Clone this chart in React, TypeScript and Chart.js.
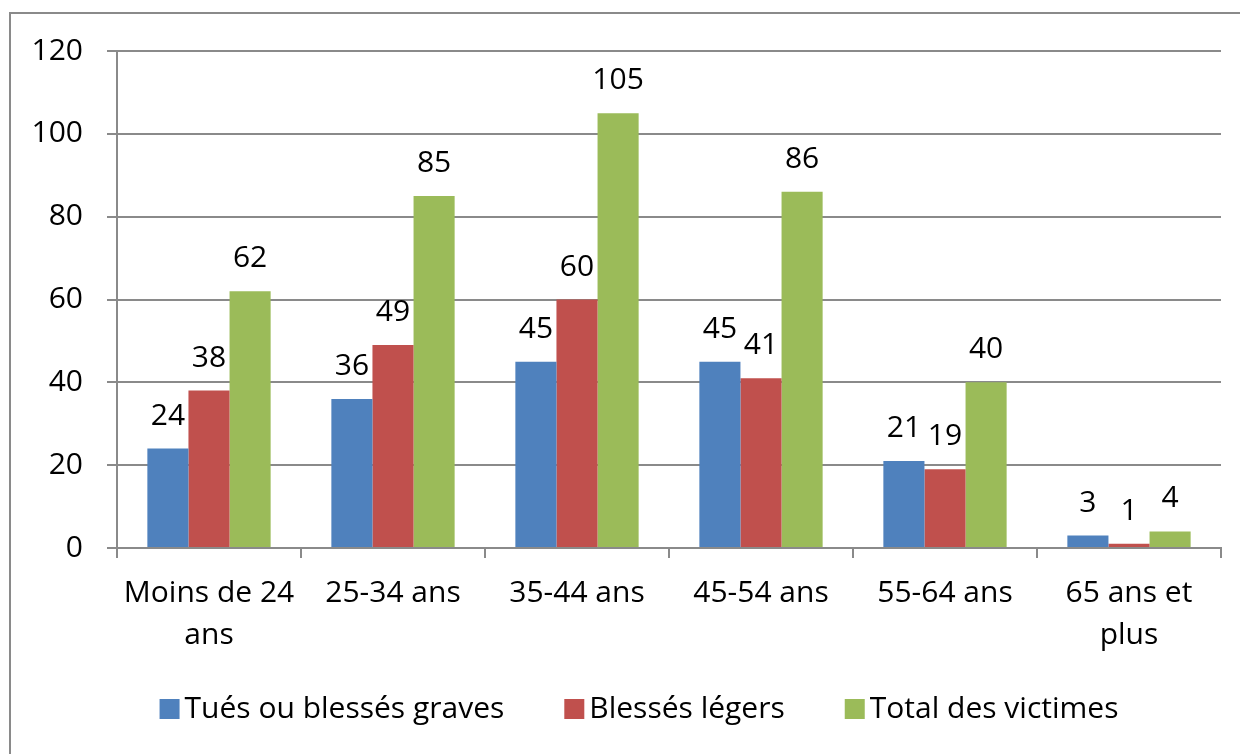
import React, { useEffect, useRef } from "react";
import { Chart, registerables } from "chart.js";

Chart.register(...registerables);

const categories: (string | string[])[] = [
  ["Moins de 24", "ans"],
  "25-34 ans",
  "35-44 ans",
  "45-54 ans",
  "55-64 ans",
  ["65 ans et", "plus"],
];
const seriesNames = ["Tués ou blessés graves", "Blessés légers", "Total des victimes"];
const tuesGraves = [24, 36, 45, 45, 21, 3];
const blessesLegers = [38, 49, 60, 41, 19, 1];
const totalVictimes = [62, 85, 105, 86, 40, 4];
const yTicks = [0, 20, 40, 60, 80, 100, 120];
const seriesColors = ["#4F81BD", "#C0504D", "#9BBB59"];

const FONT_FAMILY = "'Open Sans', sans-serif";
const FONT_SIZE = 30;
const GRID = "#8a8a8a";

const dataLabelPlugin = {
  id: "dataLabels",
  afterDatasetsDraw(chart: any) {
    const ctx = chart.ctx;
    ctx.save();
    ctx.font = `${FONT_SIZE}px ${FONT_FAMILY}`;
    ctx.fillStyle = "#000";
    ctx.textAlign = "center";
    ctx.textBaseline = "alphabetic";
    chart.data.datasets.forEach((ds: any, di: number) => {
      const meta = chart.getDatasetMeta(di);
      meta.data.forEach((el: any, i: number) => {
        ctx.fillText(String(ds.data[i]), el.x, el.y - 24);
      });
    });
    ctx.restore();
  },
};

const legendPlugin = {
  id: "customLegend",
  afterDraw(chart: any) {
    const ctx = chart.ctx;
    ctx.save();
    ctx.font = `${FONT_SIZE}px ${FONT_FAMILY}`;
    const box = 20;
    const gapText = 5;
    const gapItem = 60;
    const items = chart.data.datasets.map((ds: any) => ({
      label: ds.label,
      color: ds.backgroundColor,
      w: ctx.measureText(ds.label).width,
    }));
    const total =
      items.reduce((s: number, it: any) => s + box + gapText + it.w, 0) +
      gapItem * (items.length - 1);
    const centerX = 639;
    const cy = 709;
    let x = centerX - total / 2;
    ctx.textBaseline = "middle";
    ctx.textAlign = "left";
    items.forEach((it: any) => {
      ctx.fillStyle = it.color;
      ctx.fillRect(x, cy - box / 2, box, box);
      x += box + gapText;
      ctx.fillStyle = "#000";
      ctx.fillText(it.label, x, cy);
      x += it.w + gapItem;
    });
    ctx.restore();
  },
};

export default function App() {
  const ref = useRef<HTMLCanvasElement | null>(null);

  useEffect(() => {
    if (!ref.current) return;
    const chart = new Chart(ref.current, {
      type: "bar",
      data: {
        labels: categories,
        datasets: [
          { label: seriesNames[0], data: tuesGraves, backgroundColor: seriesColors[0] },
          { label: seriesNames[1], data: blessesLegers, backgroundColor: seriesColors[1] },
          { label: seriesNames[2], data: totalVictimes, backgroundColor: seriesColors[2] },
        ].map((d) => ({ ...d, borderWidth: 0, categoryPercentage: 0.67, barPercentage: 1 })),
      },
      options: {
        responsive: false,
        animation: false,
        devicePixelRatio: 1,
        layout: { padding: { top: 51, right: 19, left: 0, bottom: 0 } },
        plugins: {
          legend: { display: false },
          tooltip: { enabled: false },
        },
        scales: {
          x: {
            grid: {
              offset: true,
              drawOnChartArea: false,
              tickLength: 10,
              color: GRID,
              lineWidth: 2,
            },
            border: { color: GRID, width: 2 },
            ticks: {
              font: { family: FONT_FAMILY, size: FONT_SIZE, lineHeight: 1.4 },
              color: "#000",
              padding: 14,
              maxRotation: 0,
              autoSkip: false,
            },
            afterFit: (s: any) => {
              s.height = 206;
            },
          },
          y: {
            min: 0,
            max: 120,
            afterBuildTicks: (s: any) => {
              s.ticks = yTicks.map((v) => ({ value: v }));
            },
            ticks: {
              font: { family: FONT_FAMILY, size: FONT_SIZE },
              color: "#000",
              padding: 24,
            },
            grid: { color: GRID, lineWidth: 2, tickLength: 10 },
            border: { color: GRID, width: 2 },
            afterFit: (s: any) => {
              s.width = 117;
            },
          },
        },
      },
      plugins: [dataLabelPlugin, legendPlugin],
    } as any);
    return () => chart.destroy();
  }, []);

  return (
    <div
      style={{
        position: "absolute",
        left: 0,
        top: 0,
        width: 1240,
        height: 754,
        overflow: "hidden",
        background: "#fff",
      }}
    >
      <div
        style={{
          position: "absolute",
          left: 9,
          top: 12,
          width: 1300,
          height: 800,
          border: `2px solid ${GRID}`,
        }}
      />
      <canvas
        ref={ref}
        width={1240}
        height={754}
        style={{ position: "absolute", left: 0, top: 0, width: 1240, height: 754 }}
      />
    </div>
  );
}
